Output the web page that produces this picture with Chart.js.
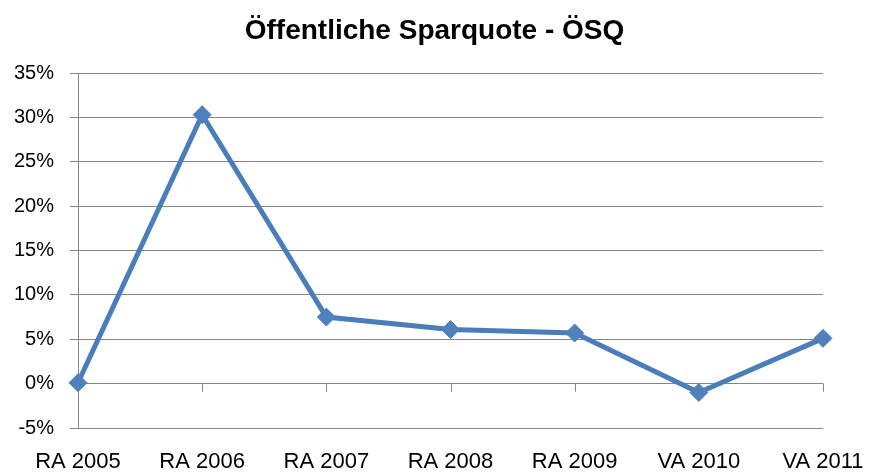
<!DOCTYPE html>
<html><head><meta charset="utf-8">
<script src="https://cdn.jsdelivr.net/npm/chart.js@4/dist/chart.umd.min.js"></script>
<style>html,body{margin:0;padding:0;background:#fff;}#wrap{width:869px;height:475px;}</style>
</head><body><div id="wrap"><canvas id="c" width="869" height="475"></canvas></div>
<script>
const categories = ['RA 2005','RA 2006','RA 2007','RA 2008','RA 2009','VA 2010','VA 2011'];
const values = [0.1, 30.3, 7.5, 6.1, 5.7, -1.0, 5.1];
const yMin = -5, yMax = 35, yStep = 5;
const titleText = 'Öffentliche Sparquote - ÖSQ';

const zeroTicks = {
  id: 'zeroTicks',
  beforeDatasetsDraw(chart) {
    const {ctx, scales: {x, y}} = chart;
    const y0 = y.getPixelForValue(0);
    ctx.save();
    ctx.strokeStyle = '#868686';
    ctx.lineWidth = 1;
    ctx.beginPath();
    categories.forEach((c, i) => {
      const px = Math.round(x.getPixelForValue(i)) + 0.5;
      ctx.moveTo(px, y0);
      ctx.lineTo(px, y0 + 8);
    });
    ctx.stroke();
    ctx.restore();
  }
};

new Chart(document.getElementById('c'), {
  type: 'line',
  data: {
    labels: categories,
    datasets: [{
      data: values,
      borderColor: '#4A7EBB',
      backgroundColor: '#4F81BD',
      borderWidth: 5,
      pointStyle: 'rectRot',
      pointRadius: 9,
      pointBorderWidth: 1,
      pointBackgroundColor: '#4F81BD',
      pointBorderColor: '#4F81BD',
      tension: 0
    }]
  },
  plugins: [zeroTicks],
  options: {
    responsive: false,
    animation: false,
    layout: { padding: { left: 0, right: 0, top: 0, bottom: 0 } },
    plugins: {
      legend: { display: false },
      tooltip: { enabled: false },
      title: {
        display: true,
        text: titleText,
        color: '#000',
        font: { family: '"Liberation Sans", Arial, sans-serif', size: 28, weight: 'bold', lineHeight: 1.2 },
        padding: { top: 14, bottom: 25.4 }
      }
    },
    scales: {
      x: {
        offset: false,
        grid: { display: false, drawTicks: false },
        border: { display: false },
        afterFit(s) { s.height = 47; s.paddingRight = 46; s.paddingLeft = 0; },
        ticks: {
          color: '#000',
          padding: 21,
          maxRotation: 0,
          autoSkip: false,
          font: { family: '"Liberation Sans", Arial, sans-serif', size: 22 }
        }
      },
      y: {
        min: yMin, max: yMax,
        grid: { color: '#868686', lineWidth: 1, tickLength: 8, drawTicks: true },
        border: { display: true, color: '#868686', width: 1 },
        afterFit(s) { s.width = 78; },
        ticks: {
          stepSize: yStep,
          color: '#000',
          padding: 16,
          font: { family: '"Liberation Sans", Arial, sans-serif', size: 20 },
          callback: v => v + '%'
        }
      }
    }
  }
});
</script></body></html>
